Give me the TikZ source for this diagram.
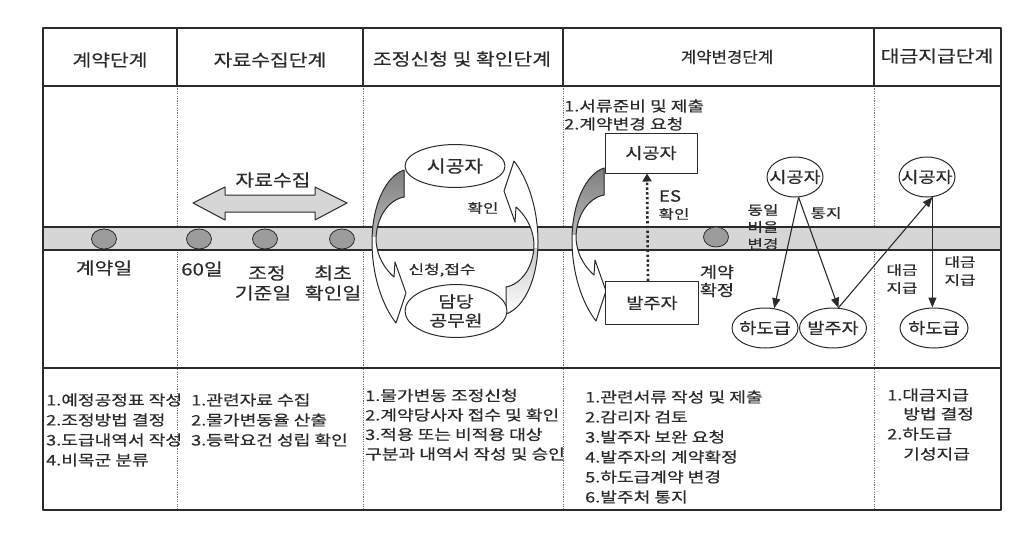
\documentclass[tikz,border=0pt]{standalone}
\usepackage{fontspec}
\newfontfamily\krH[FakeStretch=1.2,FakeBold=0.4]{Noto Sans CJK KR}
\newfontfamily\krM[FakeStretch=1.2,FakeBold=0.4]{Noto Sans CJK KR}
\newfontfamily\krN[FakeStretch=1.08,FakeBold=0.4]{Noto Sans CJK KR}
\newfontfamily\krS[FakeStretch=1.3,FakeBold=0.4]{Noto Sans CJK KR}
\newfontfamily\krB[FakeStretch=1.25,FakeBold=0.4]{Noto Sans CJK KR}
\usetikzlibrary{arrows.meta,shapes.geometric}
\definecolor{ink}{HTML}{2B2B2B}
\definecolor{bandfill}{HTML}{D6D6D6}
\definecolor{dotfill}{HTML}{9C9C9C}
\definecolor{shade}{HTML}{C2C2C2}
\definecolor{divider}{HTML}{6E6E6E}
\newcommand\ctext[1]{\makebox[0pt]{#1}}
\def\curvedribbon{(404,170) -- (404,197) .. controls (388,200) and (376,218) .. (376,240) .. controls (377,258) and (386,270) .. (394,277) -- (395,262) -- (406,293) -- (396,323) .. controls (382,305) and (372,275) .. (372,242) .. controls (372,205) and (386,176) .. (404,170) -- cycle}
\newcommand\ribbonpiece{%
  \fill[white] \curvedribbon;
  \begin{scope}\clip (360,150) rectangle (420,236); \fill[shade] \curvedribbon; \end{scope}
  \draw[ink, line width=1pt] \curvedribbon;}
\begin{document}
\begin{tikzpicture}[x=1pt,y=-1pt,line join=round,
  hdr/.style={font=\krH\fontsize{17}{19}\selectfont, text=ink, inner sep=0},
  mid/.style={font=\krM\fontsize{15.5}{17}\selectfont, text=ink, inner sep=0},
  sm/.style={font=\krS\fontsize{13}{15}\selectfont, text=ink, inner sep=0},
  body/.style={font=\krB\fontsize{14.5}{16}\selectfont, text=ink, inner sep=0, anchor=west},
  ell/.style={ellipse, draw=ink, line width=1pt, fill=white, inner sep=0, mid},
  rbox/.style={rectangle, draw=ink, line width=1pt, fill=white, inner sep=0, mid},
  tdot/.style={ellipse, draw=ink, line width=0.8pt, fill=dotfill, minimum width=25, minimum height=20, inner sep=0},
  dline/.style={draw=divider, line width=0.6pt, dash pattern=on 1.2pt off 1.2pt},
  frameline/.style={draw=ink, line width=1.2pt},
  conn/.style={draw=ink, line width=1.1pt, -{Triangle[length=10pt,width=8pt]}}]
\useasboundingbox (0,0) rectangle (1022,533);
\fill[white] (0,0) rectangle (1022,533);

% dividers in body sections
\foreach \x in {177,363,563,874} {
  \draw[dline] (\x,86) -- (\x,510);
}
% header dividers
\foreach \x in {177,363,563,874} {
  \draw[frameline] (\x,28) -- (\x,86);
}
% band
\fill[bandfill] (43,227) rectangle (1001,250);
\draw[frameline] (43,227) -- (1001,227);
\draw[frameline] (43,250) -- (1001,250);
% frame
\draw[frameline] (43,28) rectangle (1001,510);
\draw[frameline] (43,86) -- (1001,86);
\draw[frameline] (43,368) -- (1001,368);

% headers
\node[hdr] (h1) at (110,60) {계약단계};
\node[hdr] (h2) at (270,60) {자료수집단계};
\node[hdr] (h3) at (462,59) {조정신청 및 확인단계};
\node[hdr, font=\krN\fontsize{15.5}{17}\selectfont] (h4) at (727,57) {계약변경단계};
\node[hdr] (h5) at (937,56) {대금지급단계};

% timeline dots
\node[tdot] (d1) at (104,239) {};
\node[tdot] (d2) at (199,239) {};
\node[tdot] (d3) at (265,239) {};
\node[tdot] (d4) at (342,239) {};
\node[tdot] (d5) at (716,237) {};

\node[hdr] (l1) at (104,268) {계약일};
\node[hdr] (l2) at (202,269) {60일};
\node[hdr] (l3) at (267,273) {조정};
\node[hdr] (l4) at (333,273) {최초};
\node[hdr] (l5) at (263,293) {기준일};
\node[hdr] (l6) at (333,293) {확인일};

% collection double arrow
\draw[ink, line width=1pt, fill=bandfill] (193,203) -- (225,187) -- (225,195) -- (315,195) -- (315,187) -- (347,203) -- (315,220) -- (315,212) -- (225,212) -- (225,220) -- cycle;
\node[hdr] (dc) at (273,180) {자료수집};

% curved ribbon arrows
\begin{scope}\ribbonpiece\end{scope}
\begin{scope}[rotate around={180:(455,242)}]\ribbonpiece\end{scope}
\begin{scope}[shift={(200,-2)}]\ribbonpiece\end{scope}

% column 3
\node[ell, hdr, minimum width=100, minimum height=43] (sg3) at (455,166) {\ctext{시공자}};
\node[ell, minimum width=102, minimum height=53, align=center, font=\krH\fontsize{16}{19}\selectfont] (gw3) at (456,311) {담당\\공무원};
\node[sm] (hw3) at (483,208) {확인};
\node[sm] (sj3) at (442,270) {신청,접수};

% column 4
\node[body] (n41) at (564,106) {1.서류준비 및 제출};
\node[body] (n42) at (564,124) {2.계약변경 요청};
\node[rbox, minimum width=92, minimum height=40] (sb4) at (651,153) {시공자};
\node[rbox, minimum width=93, minimum height=43] (bb4) at (652,303) {발주자};
\draw[ink, line width=2.6pt, dash pattern=on 2.4pt off 2.4pt, -{Triangle[length=8pt,width=9pt]}] ([xshift=-4pt]bb4.north) -- ([xshift=-4pt]sb4.south);
\node[mid] (es) at (670,196) {ES};
\node[sm] (esh) at (674,214) {확인};
\node[mid] (gy1) at (717,272) {계약};
\node[mid] (gy2) at (717,290) {확정};

\node[ell, minimum width=56, minimum height=40] (sg4) at (795,177) {\ctext{시공자}};
\node[ell, minimum width=66, minimum height=40] (hd4) at (765,328) {\ctext{하도급}};
\node[ell, minimum width=67, minimum height=40] (bj4) at (833,328) {\ctext{발주자}};
\node[sm] (dy1) at (763,210) {동일};
\node[sm] (dy2) at (763,227) {비율};
\node[sm] (dy3) at (763,244) {변경};
\node[sm] (tj) at (826,213) {통지};
\draw[conn] (sg4.-80) -- (hd4.65);
\draw[conn] (sg4.-80) -- (bj4.75);

% column 5
\node[ell, minimum width=56, minimum height=40] (sg5) at (927,177) {\ctext{시공자}};
\node[ell, minimum width=68, minimum height=40] (hd5) at (934,328) {\ctext{하도급}};
\draw[conn] (bj4.75) -- (sg5.-75);
\draw[conn] (sg5.-75) -- (sg5.-75 |- hd5.north);
\node[sm] (dg1) at (902,270) {대금};
\node[sm] (dg2) at (902,288) {지급};
\node[sm] (dg3) at (960,262) {대금};
\node[sm] (dg4) at (960,280) {지급};

% bottom texts
\foreach \t [count=\i] in {1.예정공정표 작성,2.조정방법 결정,3.도급내역서 작성,4.비목군 분류}
  \node[body] (ba\i) at (46,380+20*\i) {\t};
\foreach \t [count=\i] in {1.관련자료 수집,2.물가변동율 산출,3.등락요건 성립 확인}
  \node[body] (bb\i) at (191,380+20*\i) {\t};
\foreach \t [count=\i] in {1.물가변동 조정신청,2.계약당사자 접수 및 확인,3.적용 또는 비적용 대상,구분과 내역서 작성 및 승인}
  \node[body] (bc\i) at (365,376+19.5*\i) {\t};
\foreach \t [count=\i] in {1.관련서류 작성 및 제출,2.감리자 검토,3.발주자 보완 요청,4.발주자의 계약확정,5.하도급계약 변경,6.발주처 통지}
  \node[body] (bd\i) at (585,377+20*\i) {\t};
\node[body] (be1) at (887,395) {1.대금지급};
\node[body] (be2) at (903,414) {방법 결정};
\node[body] (be3) at (887,434) {2.하도급};
\node[body] (be4) at (903,454) {기성지급};
\end{tikzpicture}
\end{document}
